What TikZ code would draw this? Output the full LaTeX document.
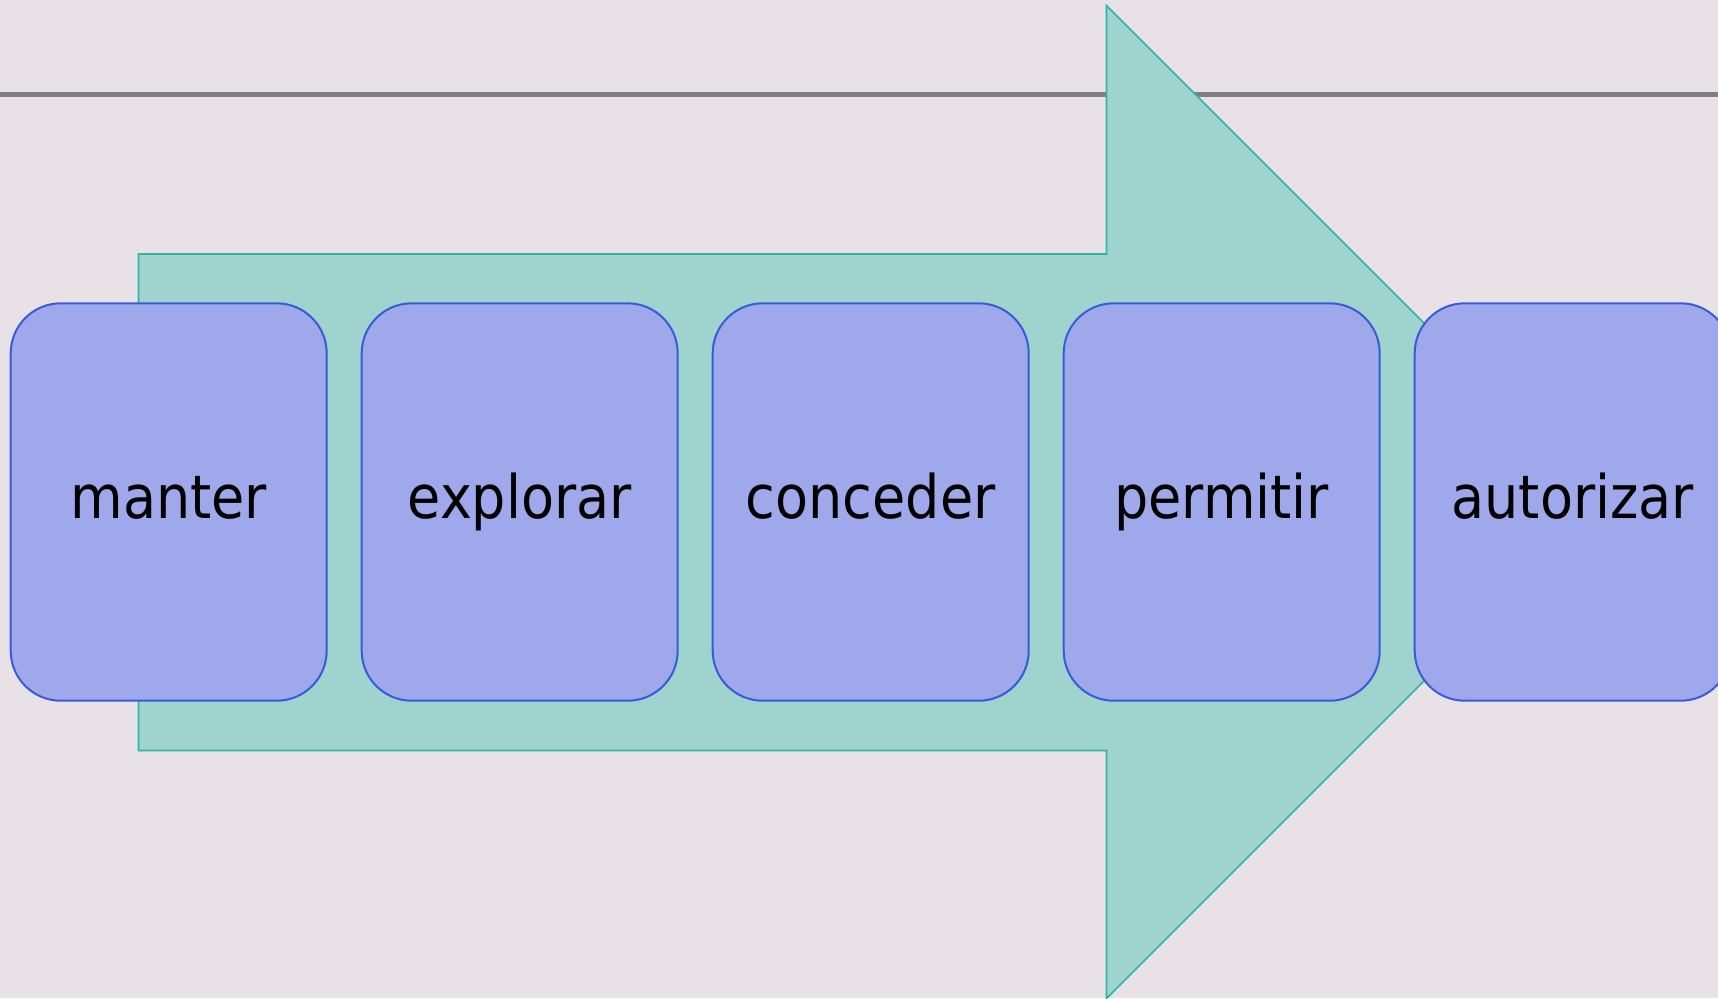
\documentclass[tikz,border=0pt]{standalone}
\usepackage{fontspec}
\setmainfont{DejaVu Sans Condensed}
\usetikzlibrary{chains,positioning}
\definecolor{bgback}{RGB}{232,226,230}
\definecolor{rulegray}{RGB}{128,128,128}
\definecolor{arrowfill}{RGB}{158,211,206}
\definecolor{arrowline}{RGB}{48,180,165}
\definecolor{stepfill}{RGB}{158,168,234}
\definecolor{stepline}{RGB}{58,91,217}
\begin{document}
\begin{tikzpicture}[x=0.5pt,y=-0.5pt,
    stepbox/.style={shape=rectangle, draw=stepline, line width=1pt,
          fill=stepfill, rounded corners=25pt,
          minimum width=158pt, minimum height=198.7pt,
          inner sep=0pt, outer sep=0pt,
          text height=22pt, text depth=5.6pt,
          font=\fontsize{30}{36}\selectfont}]
    \fill[bgback] (0,0) rectangle (1718,998);
    \useasboundingbox (0,0) rectangle (1718,998);
    \clip (0,0) rectangle (1718,998);
    \draw[rulegray, line width=2.5pt] (0,94.8) -- (1718,94.8);
    % big arrow behind the steps
    \draw[arrowline, fill=arrowfill, line width=0.8pt]
      (138.5,254) -- (1106.5,254) -- (1106.5,5.5) -- (1603,502)
      -- (1106.5,998.5) -- (1106.5,750.5) -- (138.5,750.5) -- cycle;
    \begin{scope}[start chain=going right,node distance=17.5pt]
      \node[on chain,stepbox] (manter) at (168.7,502) {manter};
      \node[on chain,stepbox] (explorar) {explorar};
      \node[on chain,stepbox] (conceder) {conceder};
      \node[on chain,stepbox] (permitir) {permitir};
      \node[on chain,stepbox] (autorizar) {autorizar};
    \end{scope}
  \end{tikzpicture}
\end{document}
